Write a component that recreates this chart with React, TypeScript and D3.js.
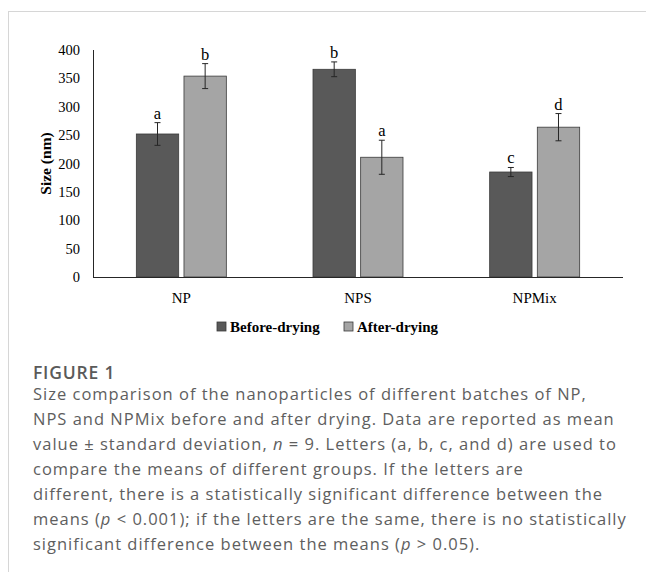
import React from 'react';
import * as d3 from 'd3';

const width = 646;
const height = 572;

const categories = ['NP', 'NPS', 'NPMix'];
const seriesNames = ['Before-drying', 'After-drying'];
const beforeValues = [252, 366, 185];
const afterValues = [354, 211, 264];
const beforeSd = [20, 13, 8];
const afterSd = [22, 30, 24];
const beforeLetters = ['a', 'b', 'c'];
const afterLetters = ['b', 'a', 'd'];
const yTicks = [0, 50, 100, 150, 200, 250, 300, 350, 400];

const captionTitle = 'FIGURE 1';
// each line is a list of [text, italic?] pieces
const captionLines: [string, boolean][][] = [
  [['Size comparison of the nanoparticles of different batches of NP,', false]],
  [['NPS and NPMix before and after drying. Data are reported as mean', false]],
  [['value \u00B1 standard deviation, ', false], ['n', true], [' = 9. Letters (a, b, c, and d) are used to', false]],
  [['compare the means of different groups. If the letters are', false]],
  [['different, there is a statistically significant difference between the', false]],
  [['means (', false], ['p', true], [' < 0.001); if the letters are the same, there is no statistically', false]],
  [['significant difference between the means (', false], ['p', true], [' > 0.05).', false]],
];

const colors = ['#595959', '#a5a5a5'];
const serif = '"Liberation Serif", "Times New Roman", serif';
const sans = '"Open Sans", "Noto Sans", sans-serif';

function App() {
  // plot area
  const left = 93;
  const right = 623;
  const top = 50;
  const bottom = 277;

  const x = d3.scaleBand().domain(categories).range([left, right]);
  const xInner = d3.scaleBand().domain(seriesNames).range([-45, 45]).paddingInner(0.111);
  const y = d3.scaleLinear().domain([0, 400]).range([bottom, top]);

  const series = [
    { name: seriesNames[0], values: beforeValues, sd: beforeSd, letters: beforeLetters },
    { name: seriesNames[1], values: afterValues, sd: afterSd, letters: afterLetters },
  ];

  return (
    <svg width={width} height={height} style={{ position: 'absolute', left: 0, top: 0, background: '#fff' }}>
      {/* card border */}
      <line x1={8} x2={width} y1={11.5} y2={11.5} stroke="#d6d6d6" />
      <line x1={8.5} x2={8.5} y1={11} y2={height} stroke="#d6d6d6" />

      {/* y ticks */}
      {yTicks.map(t => (
        <text key={t} x={80} y={y(t)} dy="0.35em" textAnchor="end" fontFamily={serif} fontSize={14.5} fill="#000">
          {t}
        </text>
      ))}
      <text
        transform={`translate(46,${(top + bottom) / 2}) rotate(-90)`}
        textAnchor="middle"
        dy="0.35em"
        fontFamily={serif}
        fontWeight="bold"
        fontSize={15.5}
      >
        Size (nm)
      </text>

      {/* bars */}
      {series.map((s, si) =>
        categories.map((c, ci) => {
          const x0 = (x(c) as number) + x.bandwidth() / 2 + (xInner(s.name) as number);
          const w = xInner.bandwidth();
          const cx = x0 + w / 2;
          const v = s.values[ci];
          const sd = s.sd[ci];
          return (
            <g key={s.name + c}>
              <rect x={x0} y={y(v)} width={w} height={bottom - y(v)} fill={colors[si]} stroke="#3a3a3a" strokeWidth={0.8} />
              <line x1={cx} x2={cx} y1={y(v + sd)} y2={y(v - sd)} stroke="#262626" strokeWidth={1} />
              <line x1={cx - 3} x2={cx + 3} y1={y(v + sd)} y2={y(v + sd)} stroke="#262626" strokeWidth={1} />
              <line x1={cx - 3} x2={cx + 3} y1={y(v - sd)} y2={y(v - sd)} stroke="#262626" strokeWidth={1} />
              <text x={cx} y={y(v + sd) - 4} textAnchor="middle" fontFamily={serif} fontSize={16.5}>
                {s.letters[ci]}
              </text>
            </g>
          );
        })
      )}

      {/* axes */}
      <line x1={left + 0.5} x2={left + 0.5} y1={top} y2={bottom} stroke="#262626" />
      <line x1={left} x2={right} y1={bottom + 0.5} y2={bottom + 0.5} stroke="#262626" />

      {categories.map(c => (
        <text key={c} x={(x(c) as number) + x.bandwidth() / 2} y={298} dy="0.35em" textAnchor="middle" fontFamily={serif} fontSize={15}>
          {c}
        </text>
      ))}

      {/* legend */}
      {seriesNames.map((n, i) => {
        const lx = i === 0 ? 217 : 344;
        return (
          <g key={n}>
            <rect x={lx} y={322} width={9} height={9} fill={colors[i]} stroke="#3a3a3a" strokeWidth={0.8} />
            <text x={lx + 13} y={327} dy="0.35em" fontFamily={serif} fontWeight="bold" fontSize={15}>
              {n}
            </text>
          </g>
        );
      })}

      {/* caption */}
      <text x={33} y={373} dy="0.35em" fontFamily={sans} fontWeight={600} fontSize={17.5} letterSpacing={0.8} fill="#5a5a5a">
        {captionTitle}
      </text>
      {captionLines.map((l, i) => (
        <text key={i} x={33} y={394 + i * 25} dy="0.35em" fontFamily={sans} fontSize={16.5} letterSpacing={1} fill="#5e5e5e">
          {l.map(([t, it], j) => (
            <tspan key={j} fontStyle={it ? 'italic' : 'normal'}>{t}</tspan>
          ))}
        </text>
      ))}
    </svg>
  );
}

export default App;
